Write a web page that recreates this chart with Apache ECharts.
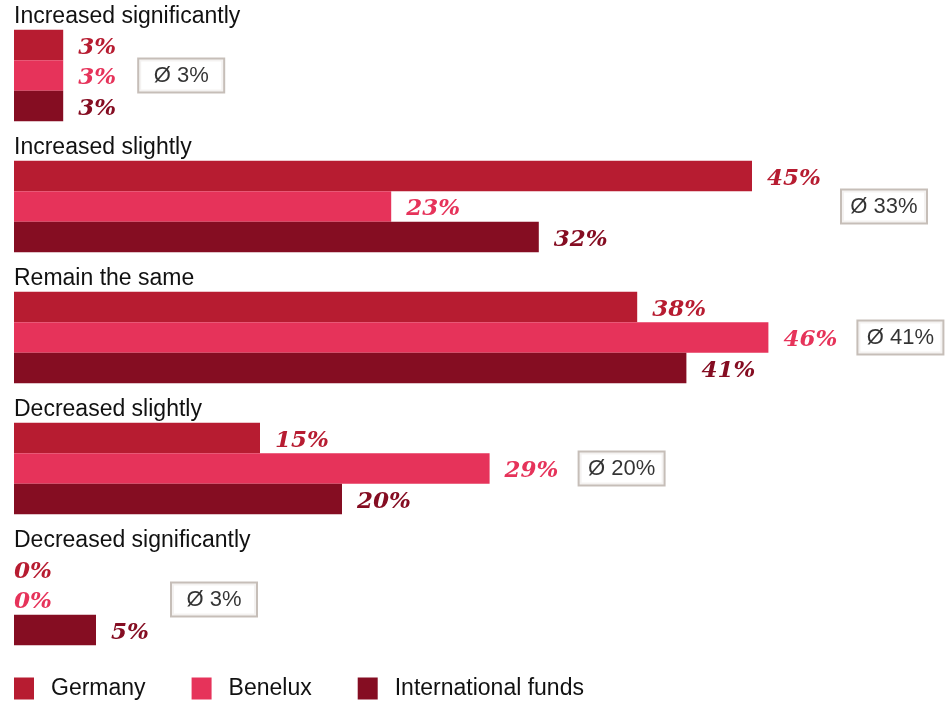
<!DOCTYPE html>
<html>
<head>
<meta charset="utf-8">
<script src="https://cdn.jsdelivr.net/npm/echarts@6/dist/echarts.min.js"></script>
<style>html,body{margin:0;padding:0;background:#fff;}#c{width:946px;height:701px;}</style>
</head>
<body>
<div id="c"></div>
<script>
const categories = ['Increased significantly', 'Increased slightly', 'Remain the same', 'Decreased slightly', 'Decreased significantly'];
const seriesNames = ['Germany', 'Benelux', 'International funds'];
const germany = [3, 45, 38, 15, 0];
const benelux = [3, 23, 46, 29, 0];
const international = [3, 32, 41, 20, 5];
const averages = [3, 33, 41, 20, 3];

const colors = ['#B71C31', '#E6335A', '#850D22'];
const valueFont = '"DejaVu Serif", Georgia, serif';
const sansFont = '"Liberation Sans", Arial, Helvetica, sans-serif';

function barSeries(name, values, color) {
  return {
    name: name,
    type: 'bar',
    barWidth: 30.5,
    barGap: '0%',
    itemStyle: { color: color },
    data: values.map(v => ({
      value: v,
      label: { distance: v === 0 ? 0 : 15 }
    })),
    label: {
      show: true,
      position: 'right',
      offset: [0, 3],
      formatter: p => p.value + '%',
      color: color,
      fontFamily: valueFont,
      fontWeight: 'bold',
      fontStyle: 'italic',
      fontSize: 23
    }
  };
}

const groupMax = categories.map((c, i) => Math.max(germany[i], benelux[i], international[i]));

const avgSeries = {
  name: 'avg',
  type: 'scatter',
  symbolSize: 0,
  silent: true,
  data: groupMax.map((m, i) => ({
    value: [m, i],
    label: { distance: String(m).length >= 2 ? 132 : 118 }
  })),
  label: {
    show: true,
    position: 'right',
    formatter: p => '\u00D8 ' + averages[p.dataIndex] + '%',
    color: '#000',
    fontFamily: sansFont,
    fontSize: 22,
    width: 84,
    align: 'center',
    backgroundColor: '#fff',
    borderColor: '#B8AEA6',
    borderWidth: 2,
    padding: [5, 0, 5, 0]
  }
};

const chart = echarts.init(document.getElementById('c'), null, { renderer: 'canvas' });
chart.setOption({
  animation: false,
  backgroundColor: '#fff',
  grid: { left: 14, top: 10, height: 655, width: 820, containLabel: false },
  xAxis: {
    type: 'value', min: 0, max: 50,
    show: false
  },
  yAxis: {
    type: 'category',
    inverse: true,
    data: categories,
    axisLine: { show: false },
    axisTick: { show: false },
    splitLine: { show: false },
    axisLabel: {
      inside: true,
      interval: 0,
      hideOverlap: false,
      margin: 0,
      verticalAlign: 'middle',
      formatter: v => '{t|' + v + '}\n{s|}',
      rich: {
        t: { fontFamily: sansFont, fontSize: 23, color: '#111', lineHeight: 22 },
        s: { lineHeight: 118, fontSize: 1 }
      }
    }
  },
  legend: {
    data: seriesNames,
    left: 14,
    top: 677,
    padding: 0,
    icon: 'rect',
    itemWidth: 20,
    itemHeight: 22,
    itemGap: 46,
    textStyle: { fontFamily: sansFont, fontSize: 23, color: '#111', padding: [0, 0, 0, 12] }
  },
  series: [
    barSeries(seriesNames[0], germany, colors[0]),
    barSeries(seriesNames[1], benelux, colors[1]),
    barSeries(seriesNames[2], international, colors[2]),
    avgSeries
  ]
});
</script>
</body>
</html>
